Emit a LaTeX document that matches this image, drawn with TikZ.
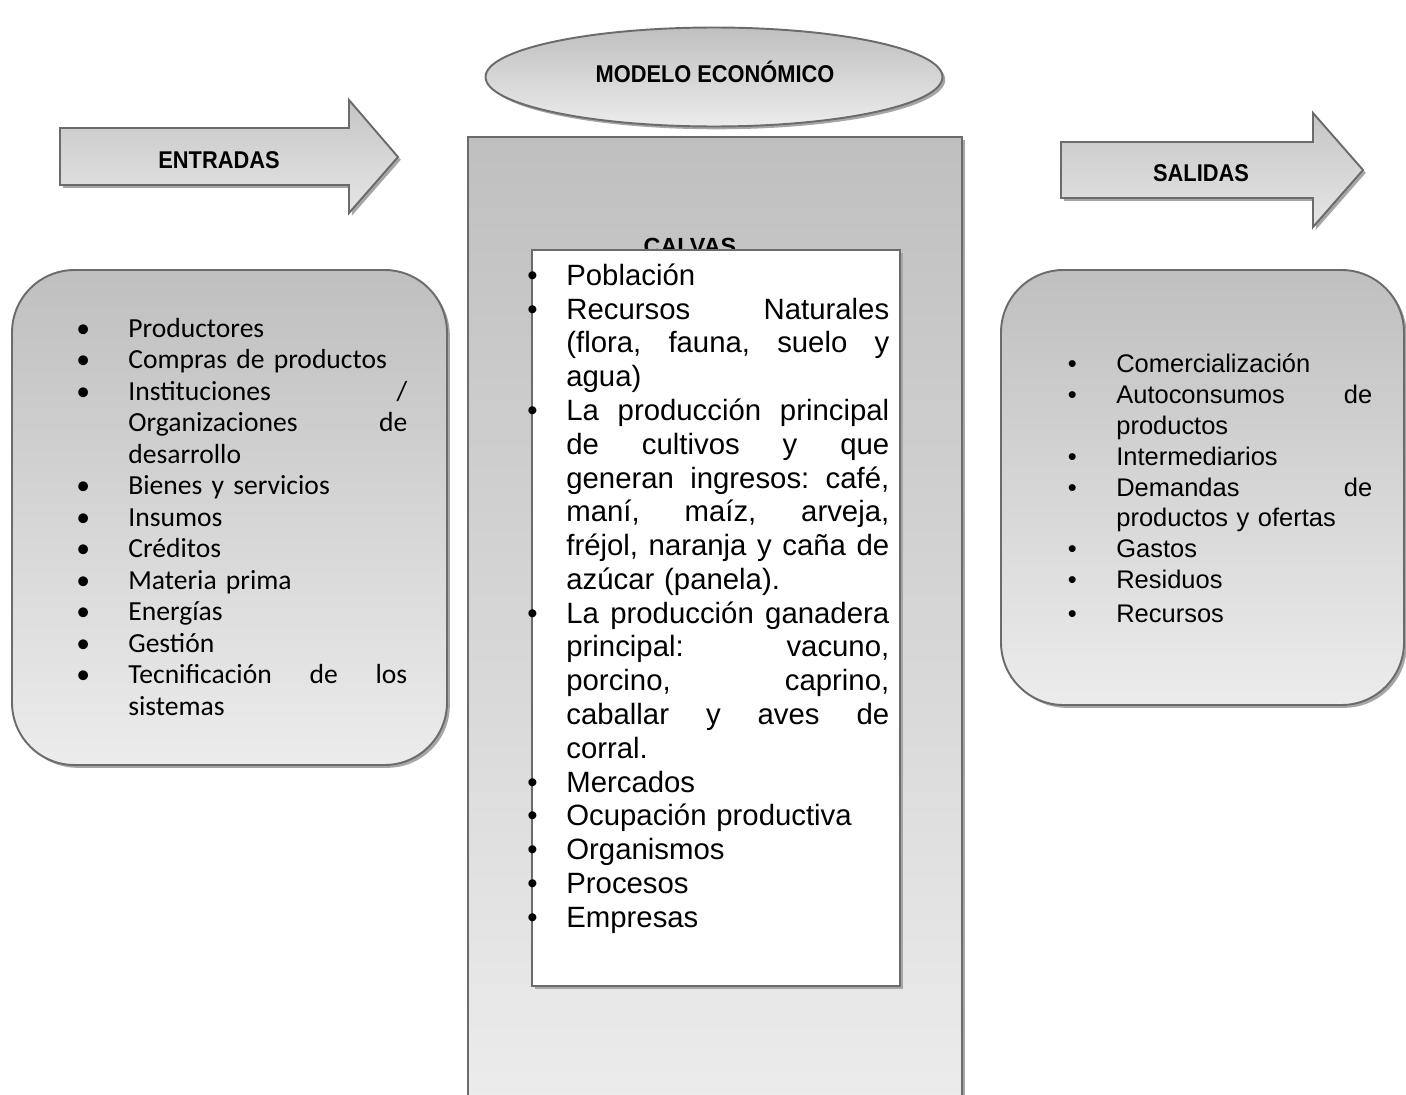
\documentclass[tikz,border=0pt]{standalone}
\usepackage{fontspec}
\setmainfont{Liberation Sans}
\newfontfamily\calibri{Carlito}
\usepackage{tikz}
\usetikzlibrary{shapes.geometric, shadows, positioning, calc}
\setlength{\parindent}{0pt}
\newcommand{\itemdot}[1]{\leavevmode\llap{\textbullet\hspace{#1}}}
\newcommand{\jsp}{\nobreak\hfill}
\newcommand{\narrow}[1]{\scalebox{0.9}[1]{#1}}

\begin{document}
\begin{tikzpicture}[
  x=0.02cm, y=-0.02cm,
  outline/.style={draw=black!58, line width=1.1pt},
  dropsh/.style={drop shadow={shadow xshift=1.6pt, shadow yshift=-1.6pt, fill=black!35, opacity=1}},
  graybox/.style={outline, dropsh, top color=gray!50, bottom color=gray!15},
  arrowbox/.style={outline, dropsh, top color=gray!45, bottom color=gray!20},
  headtext/.style={font=\bfseries\fontsize{13.8}{16}\selectfont, inner sep=0pt, anchor=base},
  itemlist/.style={anchor=north west, inner sep=0pt, align=left},
]
\useasboundingbox (0,0) rectangle (1406,1095);

% arrows
\path[arrowbox] (60,128) -- (349,128) -- (349,100) -- (398,157) -- (349,213) -- (349,185) -- (60,185) -- cycle;
\node[headtext] (inlabel) at (219,168) {\narrow{ENTRADAS}};
\path[arrowbox] (1061,142) -- (1313,142) -- (1313,113) -- (1363,170) -- (1313,227) -- (1313,198) -- (1061,198) -- cycle;
\node[headtext] (outlabel) at (1201,181) {\narrow{SALIDAS}};

% model
\node[ellipse, graybox, minimum width=9.14cm, minimum height=1.98cm, inner sep=0pt] (model) at (714,77) {};
\node[headtext] (modellabel) at (715,83) {\narrow{MODELO ECONÓMICO}};
\path[graybox] (468,137) rectangle (962,1100);
\node[font=\bfseries\fontsize{13.3}{16}\selectfont, inner sep=0pt, anchor=base] (calvas) at (690,254) {CALVAS};
\path[outline, fill=white, dropsh] (532,250) rectangle (900,986);

\node[itemlist, text width=6.46cm, font=\fontsize{16.7}{19.23}\selectfont] (core) at (566,252.7) {%
\rule{0pt}{1.1em}\itemdot{16.4pt}Población\\
\itemdot{16.4pt}Recursos\jsp Naturales\\
(flora,\jsp fauna,\jsp suelo\jsp y\\
agua)\\
\itemdot{16.4pt}La\jsp producción\jsp principal\\
de\jsp cultivos\jsp y\jsp que\\
generan\jsp ingresos:\jsp café,\\
maní,\jsp maíz,\jsp arveja,\\
fréjol,\jsp naranja\jsp y\jsp caña\jsp de\\
azúcar (panela).\\
\itemdot{16.4pt}La\jsp producción\jsp ganadera\\
principal:\jsp vacuno,\\
porcino,\jsp caprino,\\
caballar\jsp y\jsp aves\jsp de\\
corral.\\
\itemdot{16.4pt}Mercados\\
\itemdot{16.4pt}Ocupación productiva\\
\itemdot{16.4pt}Organismos\\
\itemdot{16.4pt}Procesos\\
\itemdot{16.4pt}Empresas};

% inputs
\path[graybox, rounded corners=1.25cm] (12,270) rectangle (447,765);
\node[itemlist, text width=5.58cm, font=\calibri\fontsize{15.7}{17.93}\selectfont] (inputs) at (128,306.6) {%
\rule{0pt}{1.1em}\itemdot{21.7pt}Productores\\
\itemdot{21.7pt}Compras de productos\\
\itemdot{21.7pt}Instituciones\jsp /\\
Organizaciones\jsp de\\
desarrollo\\
\itemdot{21.7pt}Bienes y servicios\\
\itemdot{21.7pt}Insumos\\
\itemdot{21.7pt}Créditos\\
\itemdot{21.7pt}Materia prima\\
\itemdot{21.7pt}Energías\\
\itemdot{21.7pt}Gestión\\
\itemdot{21.7pt}Tecnificación\jsp de\jsp los\\
sistemas};

% outputs
\path[graybox, rounded corners=1.25cm] (1001,270) rectangle (1404,705);
\node[itemlist, text width=5.12cm, font=\fontsize{14.5}{17.6}\selectfont] (outputs) at (1116,344) {%
\rule{0pt}{1.1em}\itemdot{22.5pt}Comercialización\\
\itemdot{22.5pt}Autoconsumos\jsp de\\
productos\\
\itemdot{22.5pt}Intermediarios\\
\itemdot{22.5pt}Demandas\jsp de\\
productos y ofertas\\
\itemdot{22.5pt}Gastos\\
\itemdot{22.5pt}Residuos\\[1.5pt]
\itemdot{22.5pt}Recursos};
\end{tikzpicture}
\end{document}
